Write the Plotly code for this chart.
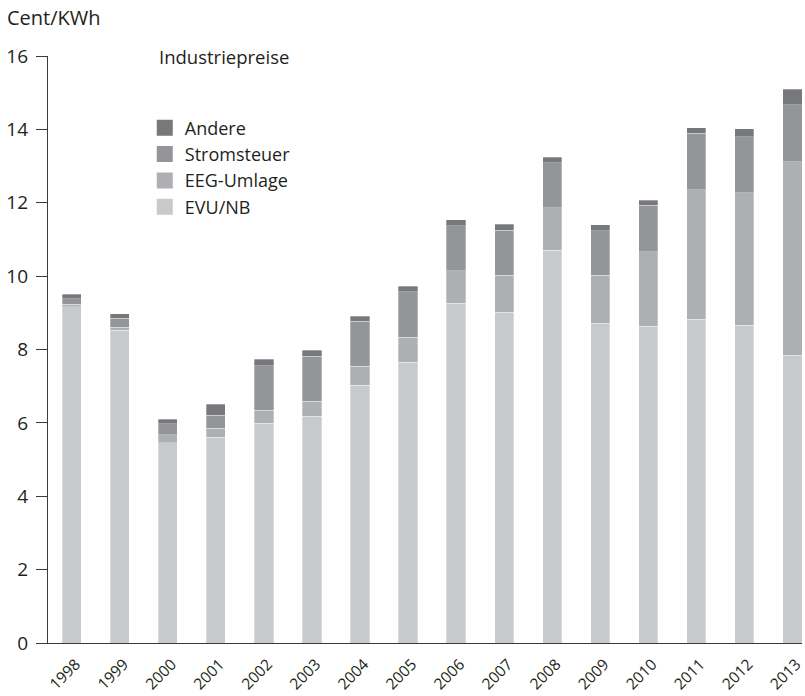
import plotly.graph_objects as go

years = ["1998", "1999", "2000", "2001", "2002", "2003", "2004", "2005",
         "2006", "2007", "2008", "2009", "2010", "2011", "2012", "2013"]
evu_nb = [9.16, 8.52, 5.46, 5.61, 5.99, 6.18, 7.03, 7.65,
          9.26, 9.01, 10.70, 8.71, 8.63, 8.82, 8.66, 7.85]
eeg_umlage = [0.07, 0.09, 0.21, 0.25, 0.36, 0.41, 0.51, 0.68,
              0.89, 1.01, 1.17, 1.31, 2.04, 3.54, 3.61, 5.27]
stromsteuer = [0.15, 0.24, 0.30, 0.35, 1.21, 1.23, 1.23, 1.24,
               1.23, 1.23, 1.22, 1.22, 1.26, 1.54, 1.53, 1.55]
andere = [0.12, 0.12, 0.13, 0.30, 0.18, 0.16, 0.14, 0.15,
          0.15, 0.16, 0.15, 0.16, 0.14, 0.14, 0.22, 0.42]
y_ticks = [0, 2, 4, 6, 8, 10, 12, 14, 16]

series = [
    ("EVU/NB", evu_nb, "#c8c9cb"),
    ("EEG-Umlage", eeg_umlage, "#aeafb2"),
    ("Stromsteuer", stromsteuer, "#949598"),
    ("Andere", andere, "#77787b"),
]

W, H = 805, 696
# target plot area in page pixels (page body margin removed below)
PL, PR, PT, PB = 48.3, 801.7, 55.5, 643.3
L, T = PL, PT
R, B = W - PR, H - PB
pw, ph = PR - PL, PB - PT

def px_x(px):
    return (px - PL) / pw

def px_y(py):
    return (PB - py) / ph

FONT = "Open Sans"
TXT = "#231f20"

fig = go.Figure()
for name, vals, col in series:
    fig.add_trace(go.Bar(
        x=years, y=vals, name=name, legendgroup=name, showlegend=False,
        marker=dict(color=col, line=dict(color="rgba(255,255,255,0.5)", width=0.6)),
        width=0.4,
    ))
# legend entries (square swatches), listed top to bottom
for name, vals, col in reversed(series):
    fig.add_trace(go.Scatter(
        x=[None], y=[None], mode="markers", name=name, legendgroup=name,
        marker=dict(symbol="square", size=16, color=col, line=dict(width=0)),
    ))

fig.update_layout(
    width=W, height=H,
    margin=dict(l=L, r=R, t=T, b=B, pad=0, autoexpand=False),
    barmode="stack",
    plot_bgcolor="white", paper_bgcolor="white",
    font=dict(family=FONT, size=19, color=TXT),
    showlegend=True,
    legend=dict(
        x=px_x(145), y=px_y(109), xanchor="left", yanchor="top",
        traceorder="normal", bgcolor="rgba(0,0,0,0)", borderwidth=0,
        font=dict(family=FONT, size=18, color=TXT),
        itemsizing="trace",
    ),
    xaxis=dict(
        type="category", range=[-0.494, 15.2], automargin=False,
        showgrid=False, zeroline=False,
        showline=True, linecolor="#3a3a3a", linewidth=1.4,
        ticks="", tickangle=-45, ticklabelstandoff=5, ticklabelshift=4,
        tickfont=dict(family=FONT, size=15.5, color=TXT),
    ),
    yaxis=dict(
        range=[0, 16], tickvals=y_ticks, automargin=False,
        showgrid=False, zeroline=False,
        showline=True, linecolor="#3a3a3a", linewidth=1.4,
        ticks="outside", ticklen=11, tickwidth=1.2, tickcolor="#3a3a3a",
        ticklabelstandoff=4,
        tickfont=dict(family=FONT, size=19, color=TXT),
    ),
    annotations=[
        dict(text="Cent/KWh", xref="paper", yref="paper",
             x=px_x(5), y=px_y(17), xanchor="left", yanchor="middle",
             showarrow=False, font=dict(family=FONT, size=20, color=TXT)),
        dict(text="Industriepreise", xref="paper", yref="paper",
             x=px_x(157), y=px_y(56), xanchor="left", yanchor="middle",
             showarrow=False, font=dict(family=FONT, size=18.5, color=TXT)),
    ],
)

fig.write_html("out.html", config={"displayModeBar": False},
               post_script="document.body.style.margin='0';")
